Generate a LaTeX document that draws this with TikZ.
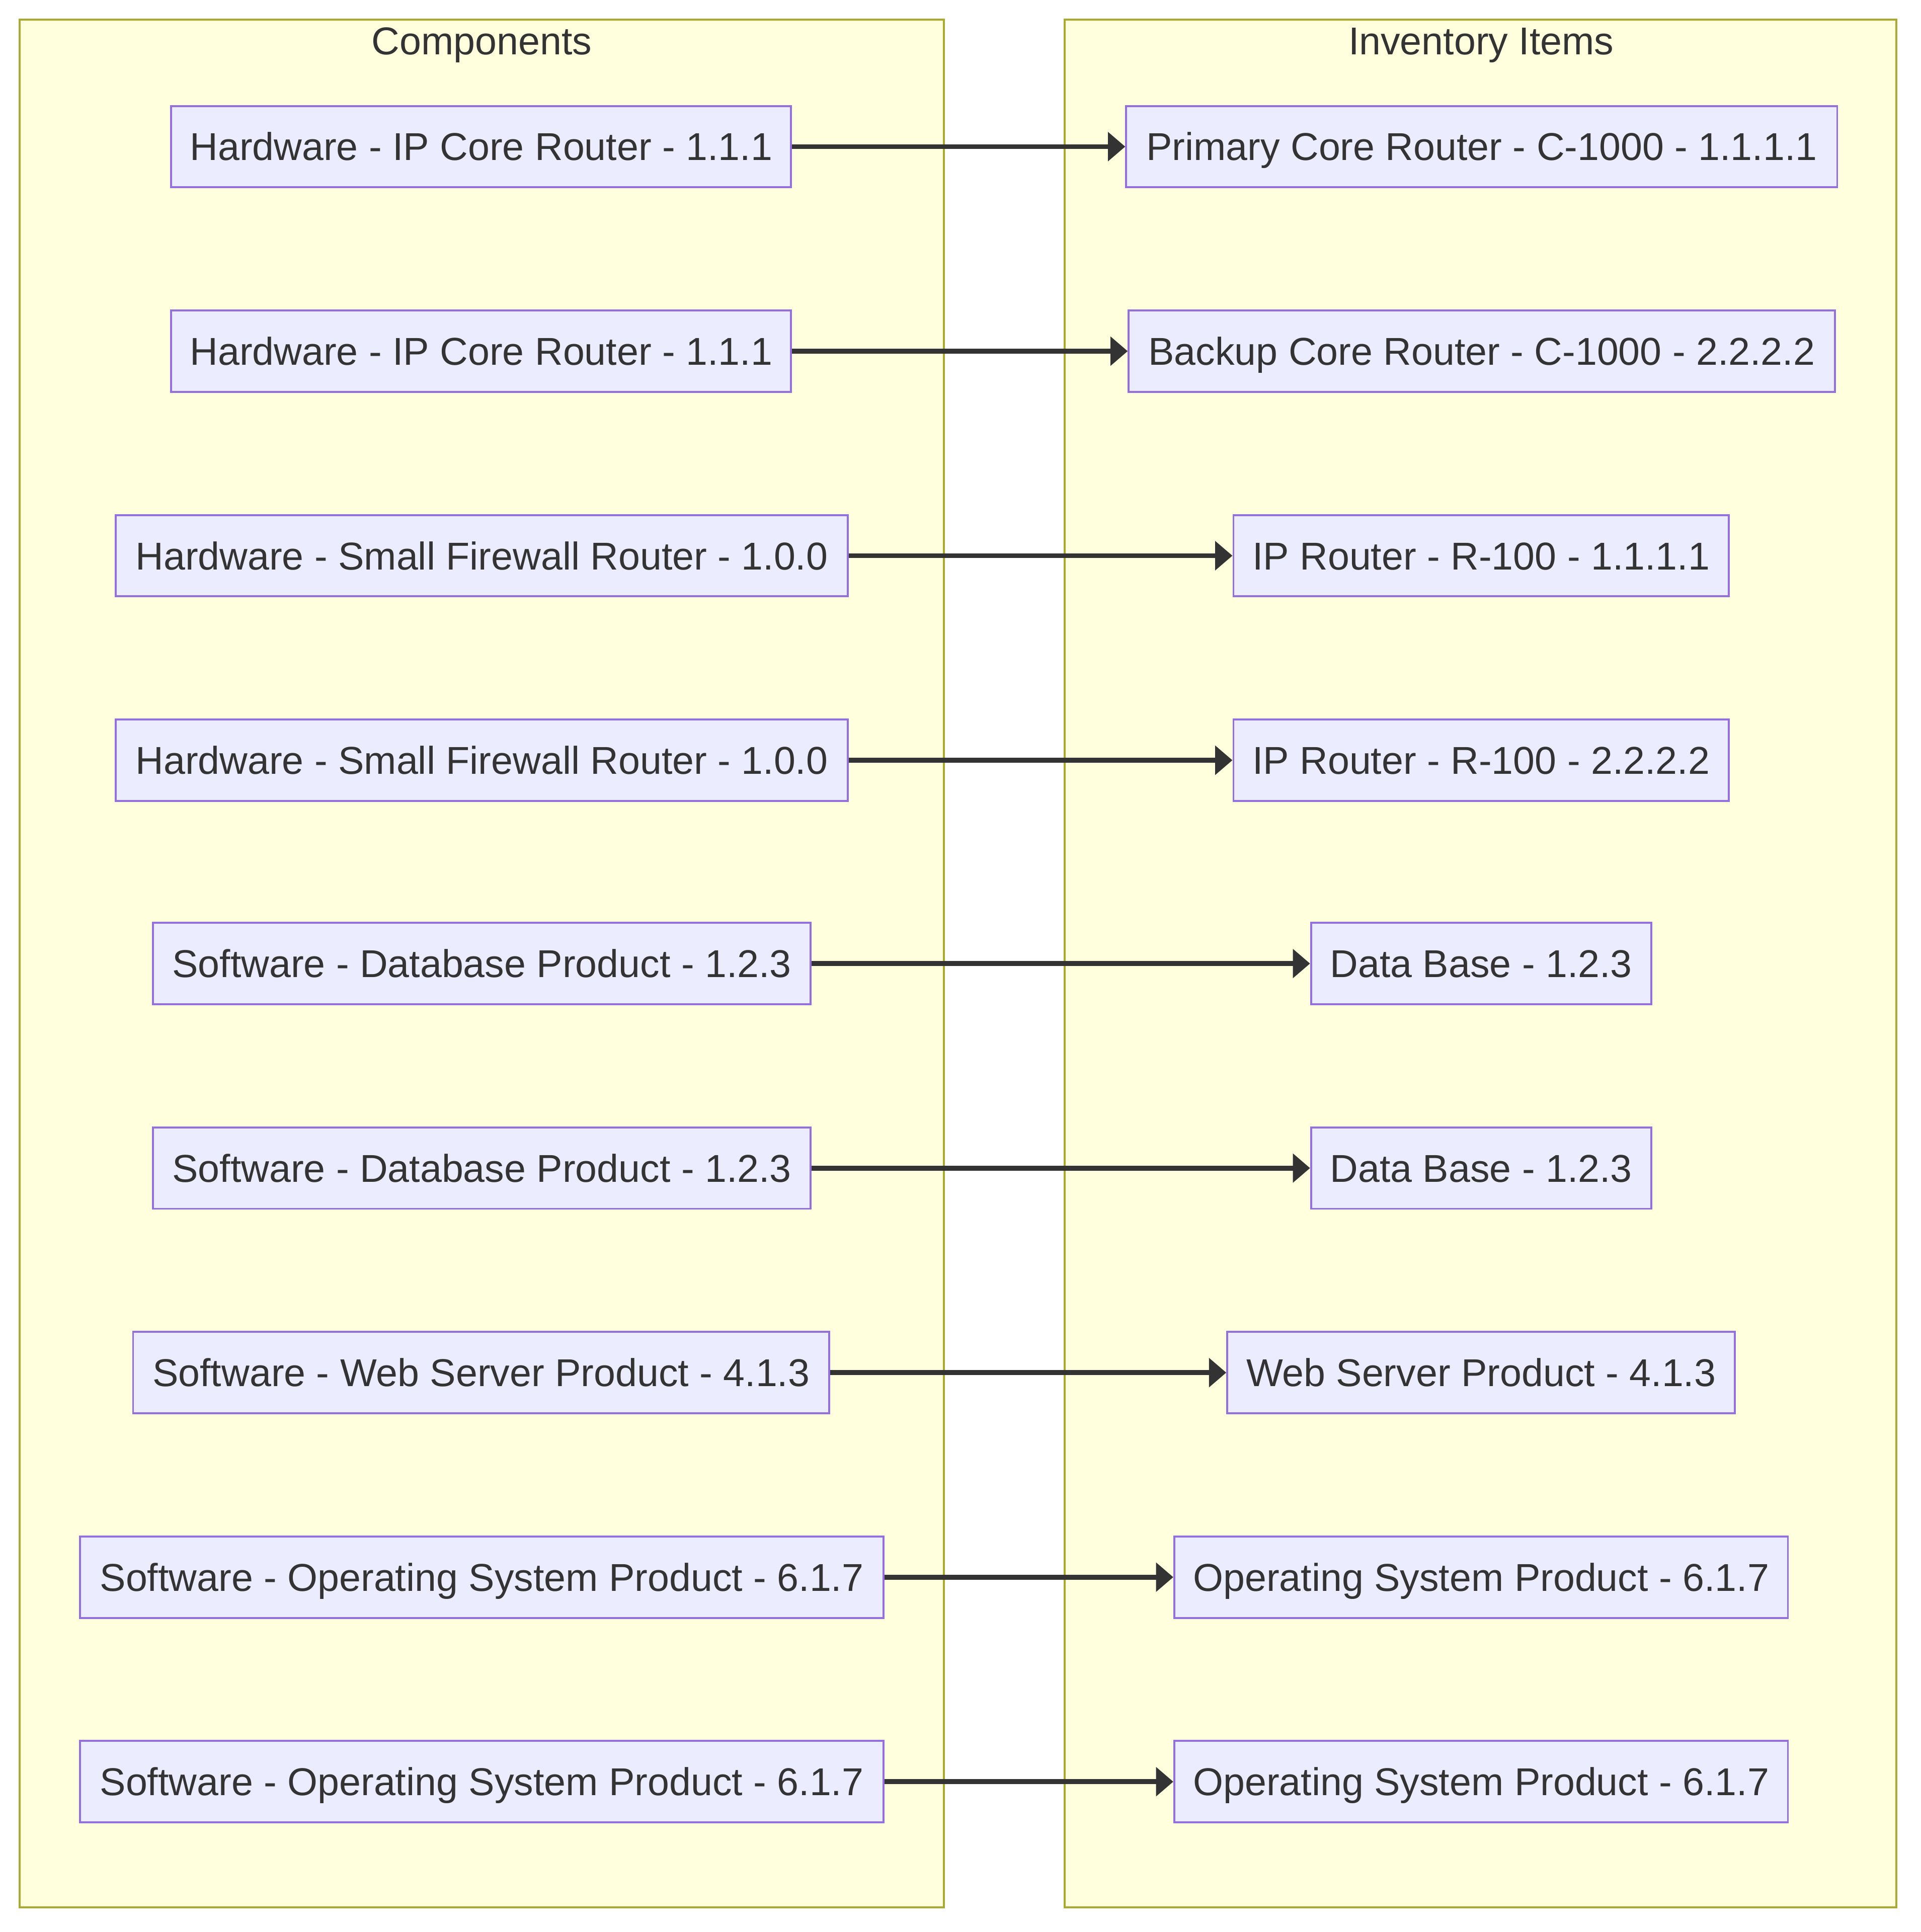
\documentclass[tikz,border=0pt]{standalone}
\usepackage{fontspec}
\setmainfont{Liberation Sans}
\usetikzlibrary{arrows.meta}
\definecolor{clfill}{HTML}{FFFFDE}
\definecolor{clstroke}{HTML}{AAAA33}
\definecolor{ndfill}{HTML}{ECECFF}
\definecolor{ndstroke}{HTML}{9370DB}
\definecolor{txt}{HTML}{333333}
\tikzset{
  cluster/.style={draw=clstroke, fill=clfill, line width=1.5pt},
  item/.style={draw=ndstroke, fill=ndfill, line width=1.6pt, minimum height=66pt, inner sep=0pt, text=txt, text height=22.5pt, text depth=0pt, font=\fontsize{31.5}{36}\selectfont},
  title/.style={text=txt, font=\fontsize{31.5}{36}\selectfont, inner sep=0pt, text height=22.5pt, text depth=0pt},
  link/.style={draw=txt, line width=4pt, -{Triangle[length=14pt,width=23pt]}}
}
\begin{document}
\begin{tikzpicture}[x=1pt,y=-1pt]
\useasboundingbox (0,0) rectangle (1559,1568);
\fill[white] (0,0) rectangle (1559,1568);
\draw[cluster] (16,16) rectangle (766,1548);
\draw[cluster] (864,16) rectangle (1539,1548);
\node[title] (t1) at (391,33) {Components};
\node[title] (t2) at (1202,33) {Inventory Items};
% left
\node[item, minimum width=503pt] (a1) at (390.5,119) {Hardware - IP Core Router - 1.1.1};
\node[item, minimum width=503pt] (a2) at (390.5,285) {Hardware - IP Core Router - 1.1.1};
\node[item, minimum width=594pt] (a3) at (391,451) {Hardware - Small Firewall Router - 1.0.0};
\node[item, minimum width=594pt] (a4) at (391,617) {Hardware - Small Firewall Router - 1.0.0};
\node[item, minimum width=534pt] (a5) at (391,782) {Software - Database Product - 1.2.3};
\node[item, minimum width=534pt] (a6) at (391,948) {Software - Database Product - 1.2.3};
\node[item, minimum width=565pt] (a7) at (390.5,1114) {Software - Web Server Product - 4.1.3};
\node[item, minimum width=652pt] (a8) at (391,1280) {Software - Operating System Product - 6.1.7};
\node[item, minimum width=652pt] (a9) at (391,1446) {Software - Operating System Product - 6.1.7};
% right
\node[item, minimum width=577pt] (b1) at (1202.5,119) {Primary Core Router - C-1000 - 1.1.1.1};
\node[item, minimum width=573pt] (b2) at (1202.5,285) {Backup Core Router - C-1000 - 2.2.2.2};
\node[item, minimum width=402pt] (b3) at (1202,451) {IP Router - R-100 - 1.1.1.1};
\node[item, minimum width=402pt] (b4) at (1202,617) {IP Router - R-100 - 2.2.2.2};
\node[item, minimum width=276pt] (b5) at (1202,782) {Data Base - 1.2.3};
\node[item, minimum width=276pt] (b6) at (1202,948) {Data Base - 1.2.3};
\node[item, minimum width=412pt] (b7) at (1202,1114) {Web Server Product - 4.1.3};
\node[item, minimum width=498pt] (b8) at (1202,1280) {Operating System Product - 6.1.7};
\node[item, minimum width=498pt] (b9) at (1202,1446) {Operating System Product - 6.1.7};
\foreach \i in {1,...,9} {\draw[link] (a\i) -- (b\i);}
\end{tikzpicture}
\end{document}
